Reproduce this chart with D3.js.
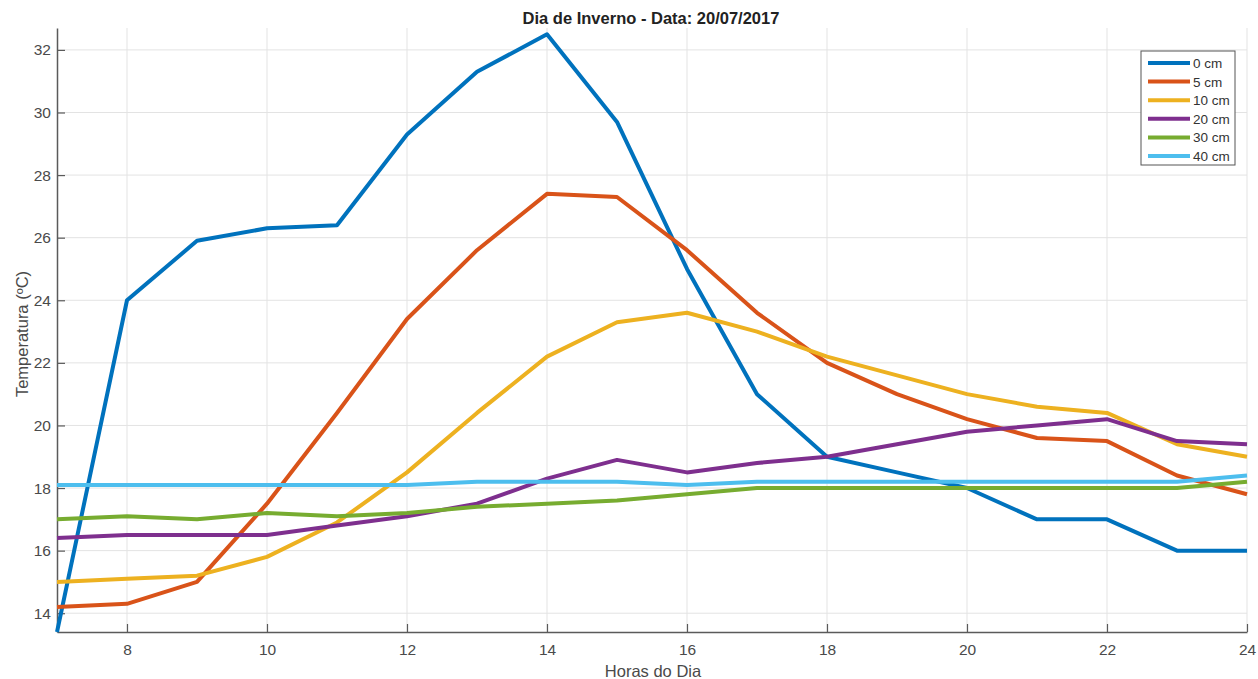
<!DOCTYPE html>
<html>
<head>
<meta charset="utf-8">
<script src="https://cdn.jsdelivr.net/npm/d3@7"></script>
<style>
  html, body { margin: 0; padding: 0; background: #fff; }
  svg { display: block; font-family: "Liberation Sans", Arial, sans-serif; }
</style>
</head>
<body>
<svg id="chart" width="1258" height="679"></svg>
<script>
// Hours of the day
const hours = [7, 8, 9, 10, 11, 12, 13, 14, 15, 16, 17, 18, 19, 20, 21, 22, 23, 24];

// Soil temperature (°C) at each depth
const depth0  = [13.4, 24.0, 25.9, 26.3, 26.4, 29.3, 31.3, 32.5, 29.7, 25.0, 21.0, 19.0, 18.5, 18.0, 17.0, 17.0, 16.0, 16.0];
const depth5  = [14.2, 14.3, 15.0, 17.5, 20.4, 23.4, 25.6, 27.4, 27.3, 25.6, 23.6, 22.0, 21.0, 20.2, 19.6, 19.5, 18.4, 17.8];
const depth10 = [15.0, 15.1, 15.2, 15.8, 16.9, 18.5, 20.4, 22.2, 23.3, 23.6, 23.0, 22.2, 21.6, 21.0, 20.6, 20.4, 19.4, 19.0];
const depth20 = [16.4, 16.5, 16.5, 16.5, 16.8, 17.1, 17.5, 18.3, 18.9, 18.5, 18.8, 19.0, 19.4, 19.8, 20.0, 20.2, 19.5, 19.4];
const depth30 = [17.0, 17.1, 17.0, 17.2, 17.1, 17.2, 17.4, 17.5, 17.6, 17.8, 18.0, 18.0, 18.0, 18.0, 18.0, 18.0, 18.0, 18.2];
const depth40 = [18.1, 18.1, 18.1, 18.1, 18.1, 18.1, 18.2, 18.2, 18.2, 18.1, 18.2, 18.2, 18.2, 18.2, 18.2, 18.2, 18.2, 18.4];

const seriesNames = ["0 cm", "5 cm", "10 cm", "20 cm", "30 cm", "40 cm"];
const seriesValues = [depth0, depth5, depth10, depth20, depth30, depth40];
const seriesColors = ["#0072BD", "#D95319", "#EDB120", "#7E2F8E", "#77AC30", "#4DBEEE"];

const xTicks = [8, 10, 12, 14, 16, 18, 20, 22, 24];
const yTicks = [14, 16, 18, 20, 22, 24, 26, 28, 30, 32];

const titleText = "Dia de Inverno - Data: 20/07/2017";
const xLabel = "Horas do Dia";
const yLabel = "Temperatura (ºC)";

const svg = d3.select("#chart");
const plotLeft = 57, plotRight = 1247, plotTop = 28, plotBottom = 632;

const x = d3.scaleLinear().domain([7, 24]).range([plotLeft, plotRight]);
const y = d3.scaleLinear().domain([13.4, 32.7]).range([plotBottom, plotTop]);

const textColor = "#4a4a4a";

// Grid
const grid = svg.append("g").attr("stroke", "#e3e3e3").attr("stroke-width", 1);
grid.selectAll("line.gx").data(xTicks).join("line")
  .attr("x1", d => x(d)).attr("x2", d => x(d))
  .attr("y1", plotTop).attr("y2", plotBottom);
grid.selectAll("line.gy").data(yTicks).join("line")
  .attr("x1", plotLeft).attr("x2", plotRight)
  .attr("y1", d => y(d)).attr("y2", d => y(d));

// Axes (ticks pointing inward)
const xAxis = d3.axisBottom(x).tickValues(xTicks).tickSizeInner(-8).tickSizeOuter(0).tickPadding(12);
const yAxis = d3.axisLeft(y).tickValues(yTicks).tickSizeInner(-8).tickSizeOuter(0).tickPadding(6);

const gx = svg.append("g").attr("transform", `translate(0,${plotBottom})`).call(xAxis);
const gy = svg.append("g").attr("transform", `translate(${plotLeft},0)`).call(yAxis);
[gx, gy].forEach(g => {
  g.select(".domain").attr("stroke", "#5a5a5a").attr("stroke-width", 1.5);
  g.selectAll(".tick line").attr("stroke", "#5a5a5a").attr("stroke-width", 1.2);
  g.selectAll(".tick text").attr("fill", textColor).attr("font-size", 15.5)
    .attr("font-family", "Liberation Sans, Arial, sans-serif");
});

// Lines
const line = d3.line().x((d, i) => x(hours[i])).y(d => y(d));
const plot = svg.append("g");
seriesValues.forEach((vals, k) => {
  plot.append("path")
    .datum(vals)
    .attr("fill", "none")
    .attr("stroke", seriesColors[k])
    .attr("stroke-width", 4)
    .attr("stroke-linejoin", "round")
    .attr("d", line);
});

// Title and axis labels
svg.append("text").attr("x", 651).attr("y", 24).attr("text-anchor", "middle")
  .attr("font-size", 16.5).attr("font-weight", "bold").attr("fill", "#222").text(titleText);
svg.append("text").attr("x", 653).attr("y", 677).attr("text-anchor", "middle")
  .attr("font-size", 16.5).attr("fill", textColor).text(xLabel);
svg.append("text").attr("transform", "translate(28,334) rotate(-90)").attr("text-anchor", "middle")
  .attr("font-size", 16.5).attr("fill", textColor).text(yLabel);

// Legend
const legend = svg.append("g");
legend.append("rect").attr("x", 1141).attr("y", 51).attr("width", 94).attr("height", 114)
  .attr("fill", "#fff").attr("stroke", "#555").attr("stroke-width", 1);
seriesNames.forEach((name, k) => {
  const ly = 63 + k * 18.6;
  legend.append("line").attr("x1", 1148).attr("x2", 1190).attr("y1", ly).attr("y2", ly)
    .attr("stroke", seriesColors[k]).attr("stroke-width", 4);
  legend.append("text").attr("x", 1193).attr("y", ly + 5)
    .attr("font-size", 13.5).attr("fill", "#333").text(name);
});
</script>
</body>
</html>
